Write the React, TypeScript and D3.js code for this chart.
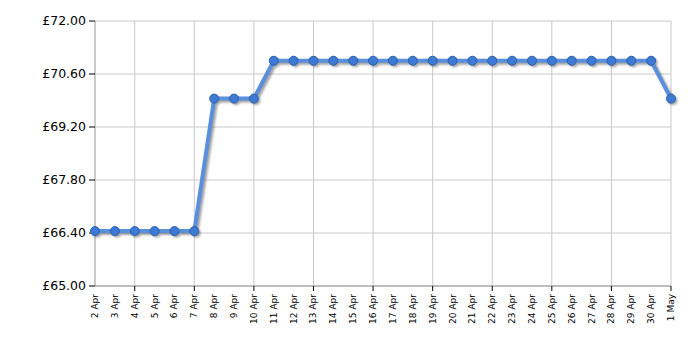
import React from "react";
import * as d3 from "d3";

const dates = ["2 Apr","3 Apr","4 Apr","5 Apr","6 Apr","7 Apr","8 Apr","9 Apr","10 Apr","11 Apr","12 Apr","13 Apr","14 Apr","15 Apr","16 Apr","17 Apr","18 Apr","19 Apr","20 Apr","21 Apr","22 Apr","23 Apr","24 Apr","25 Apr","26 Apr","27 Apr","28 Apr","29 Apr","30 Apr","1 May"];
const prices = [66.45,66.45,66.45,66.45,66.45,66.45,69.95,69.95,69.95,70.95,70.95,70.95,70.95,70.95,70.95,70.95,70.95,70.95,70.95,70.95,70.95,70.95,70.95,70.95,70.95,70.95,70.95,70.95,70.95,69.95];
const yTicks = [65.0, 66.4, 67.8, 69.2, 70.6, 72.0];

export default function App() {
  const W = 700, H = 350;
  const left = 95, right = 671, top = 21, bottom = 286;
  const x = d3.scalePoint<string>().domain(dates).range([left, right]);
  const y = d3.scaleLinear().domain([65, 72]).range([bottom, top]);
  const line = d3.line<number>().x((_, i) => x(dates[i])!).y(d => y(d));
  const path = line(prices) || "";
  const gridDates = dates.filter((_, i) => i % 3 === 2);
  const font = "DejaVu Sans, Verdana, sans-serif";
  return (
    <svg width={W} height={H} style={{ position: "absolute", left: 0, top: 0 }}>
      <defs>
        <filter id="blur" x="-5%" y="-5%" width="110%" height="110%">
          <feGaussianBlur stdDeviation="1" />
        </filter>
      </defs>
      <rect x={0} y={0} width={W} height={H} fill="#fff" />
      {yTicks.map(t => (
        <line key={"gy" + t} x1={left} x2={right} y1={y(t)} y2={y(t)} stroke="#c8c8c8" strokeWidth={1} />
      ))}
      {gridDates.map(d => (
        <line key={"gx" + d} x1={x(d)} x2={x(d)} y1={top} y2={bottom} stroke="#c8c8c8" strokeWidth={1} />
      ))}
      <line x1={left} x2={left} y1={top} y2={bottom} stroke="#999" strokeWidth={1} />
      <line x1={left} x2={right} y1={bottom} y2={bottom} stroke="#999" strokeWidth={1} />
      {yTicks.map(t => (
        <g key={"ty" + t}>
          <line x1={left - 6} x2={left} y1={y(t)} y2={y(t)} stroke="#000" strokeWidth={1} />
          <text x={left - 9} y={y(t)} dy="0.35em" textAnchor="end" fontFamily={font} fontSize={12.5} fill="#000">
            {"£" + t.toFixed(2)}
          </text>
        </g>
      ))}
      {gridDates.map(d => (
        <line key={"tx" + d} x1={x(d)} x2={x(d)} y1={bottom} y2={bottom + 5} stroke="#000" strokeWidth={1} />
      ))}
      {dates.map(d => (
        <text key={"lx" + d} transform={`translate(${x(d)! + 3},${bottom + 8}) rotate(-90)`} textAnchor="end" fontFamily={font} fontSize={9} fill="#000">
          {d}
        </text>
      ))}
      <g transform="translate(2,2)" filter="url(#blur)" opacity={0.45}>
        <path d={path} fill="none" stroke="#333" strokeWidth={4} strokeLinejoin="round" />
        {prices.map((p, i) => (
          <circle key={"s" + i} cx={x(dates[i])} cy={y(p)} r={4.5} fill="#333" />
        ))}
      </g>
      <path d={path} fill="none" stroke="#5a8fdc" strokeWidth={4} strokeLinejoin="round" />
      {prices.map((p, i) => (
        <circle key={"c" + i} cx={x(dates[i])} cy={y(p)} r={4.5} fill="#3d7ad6" stroke="#2c5ea8" strokeWidth={1} />
      ))}
    </svg>
  );
}
